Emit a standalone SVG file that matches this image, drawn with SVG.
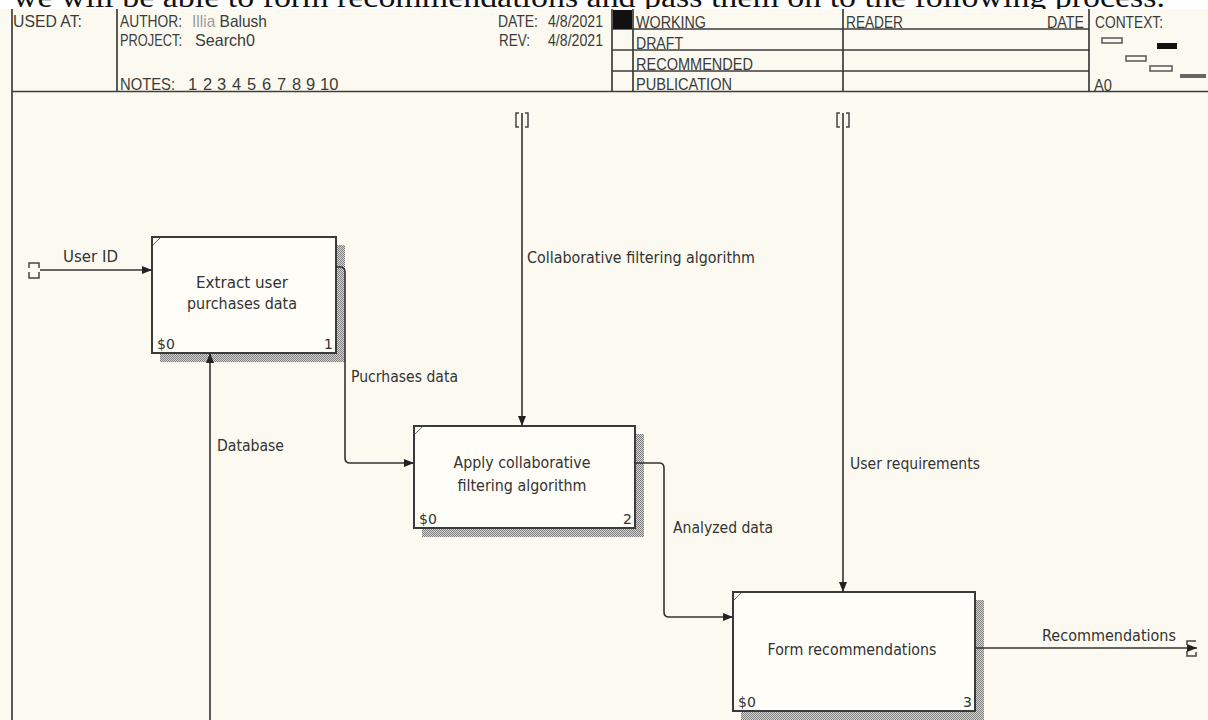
<svg xmlns="http://www.w3.org/2000/svg" width="1208" height="720" viewBox="0 0 1208 720">
  <style>
    .hdr { font-family: "Liberation Sans", Arial, sans-serif; font-size: 16.5px; fill: #3a3a3a; }
    .frame { stroke: #3c3c3c; stroke-width: 1.7; fill: none; }
    .box { fill: #fefdf7; stroke: #3a3a3a; stroke-width: 2; }
    .shadow { fill: url(#hatch); }
    .btxt { font-family: "DejaVu Sans", Verdana, sans-serif; font-size: 15.5px; fill: #333; text-anchor: middle; }
    .corner { font-family: "DejaVu Sans", Verdana, sans-serif; font-size: 14px; fill: #333; }
    .lbl { font-family: "DejaVu Sans", Verdana, sans-serif; font-size: 15px; fill: #333; }
    .arrow { stroke: #333; stroke-width: 1.6; fill: none; marker-end: url(#ah); }
    .tun { stroke: #444; stroke-width: 1.5; fill: none; }
  </style>
  <defs>
    <pattern id="hatch" width="2" height="2" patternUnits="userSpaceOnUse">
      <rect width="2" height="2" fill="#d9d7cf"/>
      <rect width="1" height="1" fill="#7c7c7c"/>
      <rect x="1" y="1" width="1" height="1" fill="#7c7c7c"/>
    </pattern>
    <marker id="ah" viewBox="0 0 10 8" refX="10" refY="4" markerWidth="10" markerHeight="8" markerUnits="userSpaceOnUse" orient="auto">
      <path d="M0,0 L10,4 L0,8 Z" fill="#222"/>
    </marker>
  </defs>

  <!-- page and the running sentence above the form -->
  <rect width="1208" height="720" fill="#ffffff"/>
  <text x="13" y="7" font-family="Liberation Serif, Times New Roman, serif" font-size="29" fill="#111" textLength="1152" lengthAdjust="spacingAndGlyphs">we will be able to form recommendations and pass them on to the following process.</text>
  <rect x="0" y="9" width="1208" height="711" fill="#fcfaf0"/>

  <!-- title block -->
  <g id="header">
    <path class="frame" d="M12,9 V720 M12,91.5 H1208 M117,9 V91.5 M612,9 V91.5 M633,9 V91.5 M843,9 V91.5 M1089,9 V91.5 M612,29 H1089 M612,50 H1089 M612,71 H1089"/>
    <rect x="613" y="10" width="19" height="19" fill="#111"/>
    <text class="hdr" x="13" y="27" textLength="69" lengthAdjust="spacingAndGlyphs">USED AT:</text>
    <text class="hdr" x="120" y="27" textLength="62" lengthAdjust="spacingAndGlyphs">AUTHOR:</text>
    <text class="hdr" x="192" y="27" textLength="75" lengthAdjust="spacingAndGlyphs"><tspan fill="#9a9a9a">Illia</tspan> Balush</text>
    <text class="hdr" x="120" y="46" textLength="62" lengthAdjust="spacingAndGlyphs">PROJECT:</text>
    <text class="hdr" x="195" y="46" textLength="60" lengthAdjust="spacingAndGlyphs">Search0</text>
    <text class="hdr" x="120" y="90" textLength="55" lengthAdjust="spacingAndGlyphs">NOTES:</text>
    <g class="hdr">
      <text x="188" y="90">1</text><text x="203" y="90">2</text><text x="217" y="90">3</text>
      <text x="232" y="90">4</text><text x="247" y="90">5</text><text x="262" y="90">6</text>
      <text x="277" y="90">7</text><text x="292" y="90">8</text><text x="306" y="90">9</text>
      <text x="320" y="90">10</text>
    </g>
    <text class="hdr" x="498" y="27" textLength="40" lengthAdjust="spacingAndGlyphs">DATE:</text>
    <text class="hdr" x="548" y="27" textLength="55" lengthAdjust="spacingAndGlyphs">4/8/2021</text>
    <text class="hdr" x="499" y="46" textLength="31" lengthAdjust="spacingAndGlyphs">REV:</text>
    <text class="hdr" x="548" y="46" textLength="55" lengthAdjust="spacingAndGlyphs">4/8/2021</text>
    <text class="hdr" x="636" y="28" textLength="70" lengthAdjust="spacingAndGlyphs">WORKING</text>
    <text class="hdr" x="636" y="49" textLength="47" lengthAdjust="spacingAndGlyphs">DRAFT</text>
    <text class="hdr" x="636" y="70" textLength="117" lengthAdjust="spacingAndGlyphs">RECOMMENDED</text>
    <text class="hdr" x="636" y="90" textLength="96" lengthAdjust="spacingAndGlyphs">PUBLICATION</text>
    <text class="hdr" x="846" y="28" textLength="57" lengthAdjust="spacingAndGlyphs">READER</text>
    <text class="hdr" x="1047" y="28" textLength="37" lengthAdjust="spacingAndGlyphs">DATE</text>
    <text class="hdr" x="1095" y="28" textLength="68" lengthAdjust="spacingAndGlyphs">CONTEXT:</text>
    <text class="hdr" x="1094" y="91" textLength="18" lengthAdjust="spacingAndGlyphs">A0</text>
    <g fill="none" stroke="#555" stroke-width="1.5">
      <rect x="1102" y="38" width="20" height="5"/>
      <rect x="1126" y="56" width="20" height="5"/>
      <rect x="1150" y="66" width="22" height="5"/>
    </g>
    <rect x="1157" y="43" width="20" height="6" fill="#111"/>
    <rect x="1180" y="74" width="26" height="4" fill="#666"/>
  </g>

  <!-- activity 1 -->
  <g id="node1">
    <rect class="shadow" x="337" y="245" width="8" height="117"/>
    <rect class="shadow" x="160" y="354" width="185" height="8"/>
    <rect class="box" x="152" y="237" width="184" height="116"/>
    <path d="M153,245 L160,238" stroke="#666" stroke-width="1"/>
    <text class="btxt" x="242" y="288" textLength="92" lengthAdjust="spacingAndGlyphs">Extract user</text>
    <text class="btxt" x="242" y="309" textLength="110" lengthAdjust="spacingAndGlyphs">purchases data</text>
    <text class="corner" x="157" y="349">$0</text>
    <text class="corner" x="333" y="349" text-anchor="end">1</text>
  </g>

  <!-- activity 2 -->
  <g id="node2">
    <rect class="shadow" x="636" y="434" width="8" height="103"/>
    <rect class="shadow" x="422" y="529" width="222" height="8"/>
    <rect class="box" x="414" y="426" width="221" height="102"/>
    <path d="M415,434 L422,427" stroke="#666" stroke-width="1"/>
    <text class="btxt" x="522" y="468" textLength="137" lengthAdjust="spacingAndGlyphs">Apply collaborative</text>
    <text class="btxt" x="522" y="491" textLength="129" lengthAdjust="spacingAndGlyphs">filtering algorithm</text>
    <text class="corner" x="419" y="524">$0</text>
    <text class="corner" x="632" y="524" text-anchor="end">2</text>
  </g>

  <!-- activity 3 -->
  <g id="node3">
    <rect class="shadow" x="976" y="600" width="8" height="120"/>
    <rect class="shadow" x="741" y="712" width="243" height="8"/>
    <rect class="box" x="733" y="592" width="242" height="119"/>
    <path d="M734,600 L741,593" stroke="#666" stroke-width="1"/>
    <text class="btxt" x="852" y="655" textLength="169" lengthAdjust="spacingAndGlyphs">Form recommendations</text>
    <text class="corner" x="738" y="707">$0</text>
    <text class="corner" x="972" y="707" text-anchor="end">3</text>
  </g>

  <!-- arrows -->
  <g id="connectors">
    <path class="arrow" d="M40,270 H152"/>
    <path class="arrow" d="M210,720 V353"/>
    <path class="arrow" d="M336,267 H340 Q345,267 345,272 V458 Q345,463 350,463 H414"/>
    <path class="arrow" d="M522,113 V426"/>
    <path class="arrow" d="M635,463 H659 Q664,463 664,468 V612 Q664,617 669,617 H733"/>
    <path class="arrow" d="M843,113 V592"/>
    <path class="arrow" d="M975,648 H1197"/>

    <!-- tunnel brackets at open ends -->
    <path class="tun" d="M29,268 V263 H39 V268 M29,272 V278 H39 V272"/>
    <path class="tun" d="M519,113 H516 V127 H519 M525,113 H528 V127 H525"/>
    <path class="tun" d="M840,113 H837 V127 H840 M846,113 H849 V127 H846"/>
    <path class="tun" d="M1187,645 V641 H1196 M1187,651 V656 H1196 V652"/>

    <text class="lbl" x="63" y="262" textLength="55" lengthAdjust="spacingAndGlyphs">User ID</text>
    <text class="lbl" x="527" y="263" textLength="228" lengthAdjust="spacingAndGlyphs">Collaborative filtering algorithm</text>
    <text class="lbl" x="351" y="382" textLength="107" lengthAdjust="spacingAndGlyphs">Pucrhases data</text>
    <text class="lbl" x="217" y="451" textLength="67" lengthAdjust="spacingAndGlyphs">Database</text>
    <text class="lbl" x="673" y="533" textLength="100" lengthAdjust="spacingAndGlyphs">Analyzed data</text>
    <text class="lbl" x="850" y="469" textLength="130" lengthAdjust="spacingAndGlyphs">User requirements</text>
    <text class="lbl" x="1042" y="641" textLength="134" lengthAdjust="spacingAndGlyphs">Recommendations</text>
  </g>
</svg>
